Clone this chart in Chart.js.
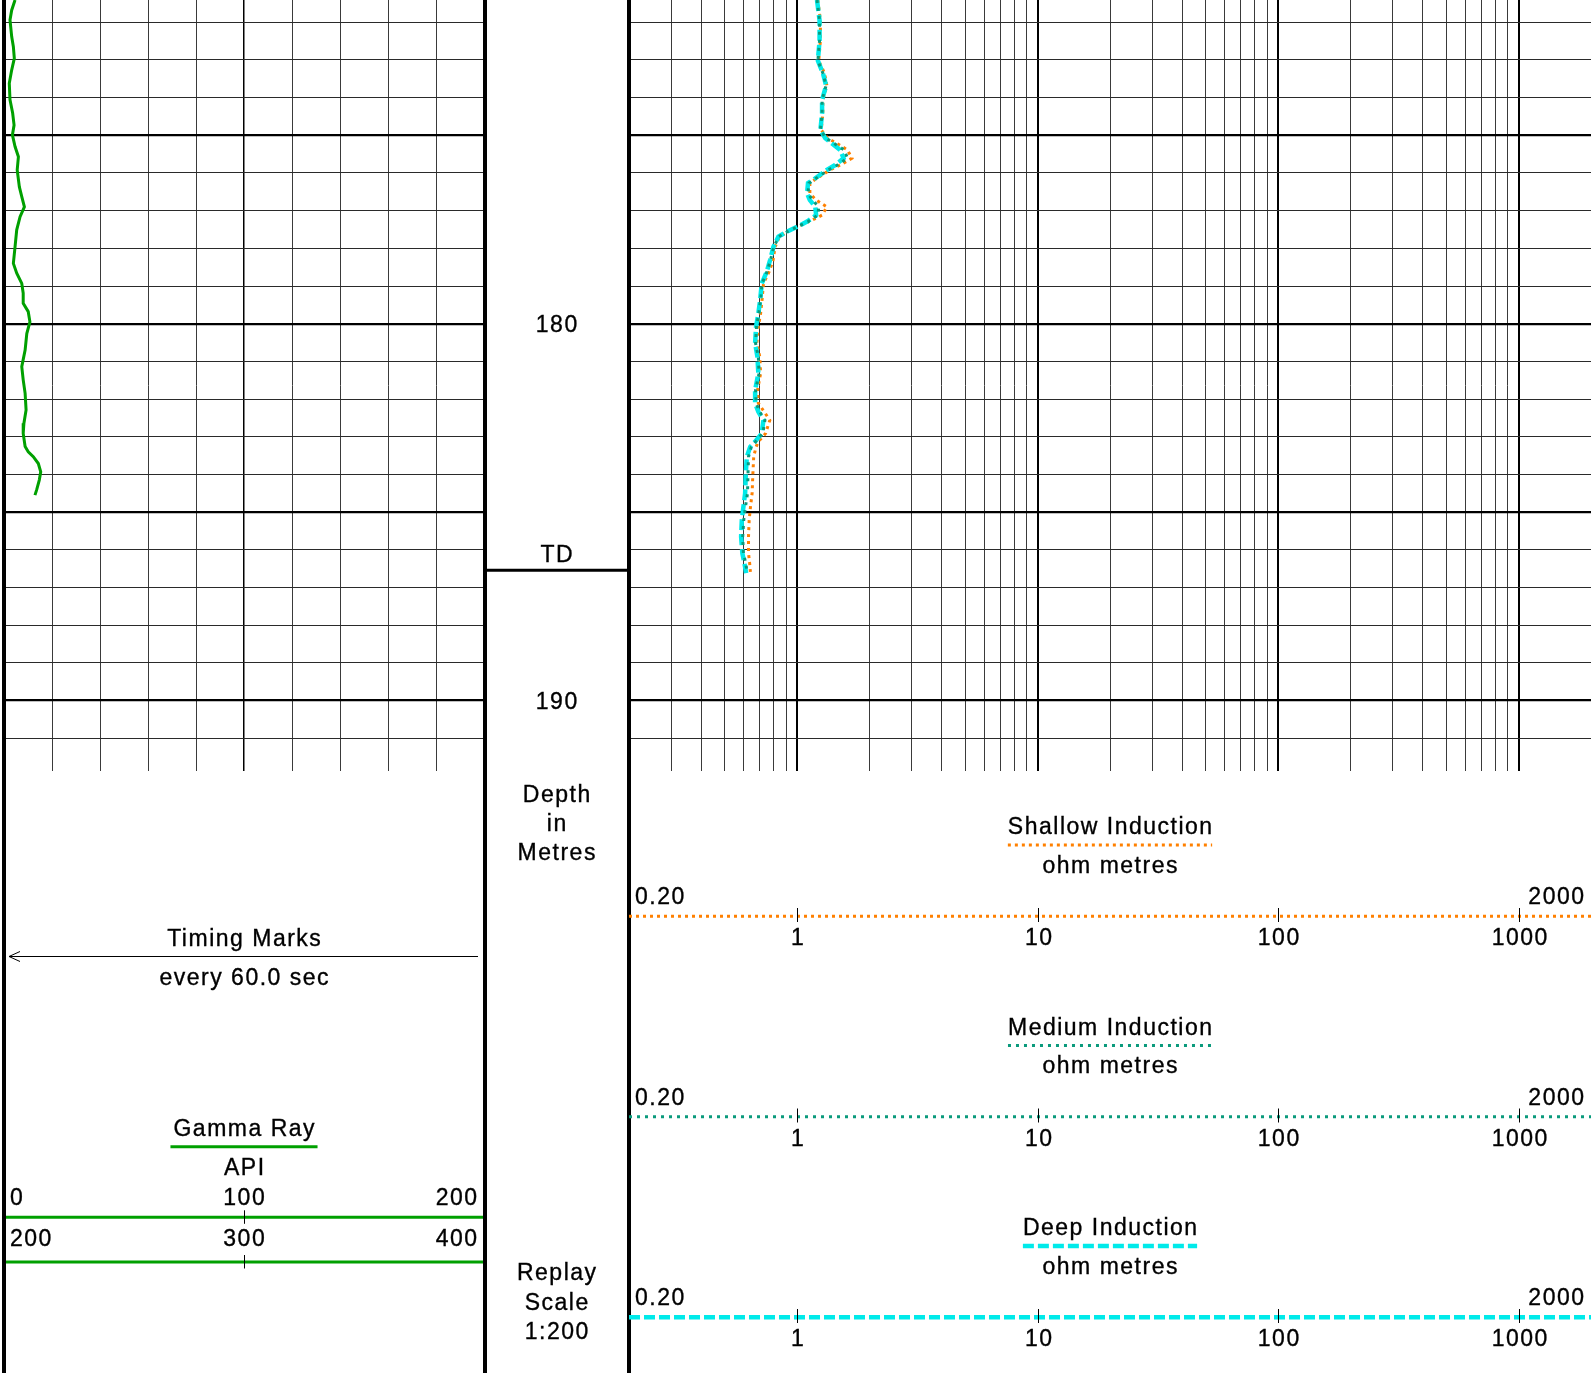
<!DOCTYPE html>
<html>
<head>
<meta charset="utf-8">
<script src="https://cdn.jsdelivr.net/npm/chart.js@4.4.1/dist/chart.umd.min.js"></script>
<style>
  html, body { margin: 0; padding: 0; background: #fff; overflow: hidden; }
  #wrap { position: relative; width: 1591px; height: 1373px; }
  canvas { position: absolute; top: 0; }
  #grCanvas { left: 0; }
  #resCanvas { left: 629px; }
</style>
</head>
<body>
<div id="wrap">
  <canvas id="grCanvas" width="629" height="1373"></canvas>
  <canvas id="resCanvas" width="962" height="1373"></canvas>
</div>
<script>
// depth window shown on the log (metres)
const depthTop = 171.41;
const depthBottom = 191.87;
const depthLabels = [180, 190];
const tdDepth = 186.54;

// Gamma Ray (API)
const grDepth = [171.41, 171.68, 171.94, 172.38, 172.65, 172.96, 173.27, 173.62, 174.06, 174.41,
  174.73, 174.99, 175.30, 175.57, 175.92, 176.37, 176.63, 176.90, 177.16, 177.51,
  177.96, 178.40, 178.66, 178.93, 179.19, 179.46, 179.68, 179.95, 180.26, 180.70,
  181.14, 181.49, 181.85, 182.29, 182.64, 182.91, 183.26, 183.40, 183.53, 183.71,
  183.93, 184.15, 184.41, 184.55];
const grApi = [4.6, 3.2, 2.5, 3.2, 3.9, 4.3, 3.2, 2.2, 2.5, 3.6,
  4.2, 3.5, 4.6, 6.0, 5.5, 6.4, 7.4, 8.5, 6.7, 5.3,
  4.6, 3.9, 5.3, 7.4, 8.0, 8.0, 10.1, 10.8, 9.5, 8.8,
  7.4, 8.0, 8.8, 9.2, 8.3, 8.0, 8.8, 10.1, 12.2, 14.3,
  15.3, 14.7, 13.6, 12.9];
const grScaleRows = [[0, 100, 200], [200, 300, 400]];

// Induction resistivity (ohm metres)
const resDepth = [171.41, 171.95, 172.48, 173.02, 173.35, 173.68, 174.06, 174.42, 174.86, 175.08,
  175.21, 175.39, 175.61, 175.79, 175.92, 176.14, 176.27, 176.54, 176.72, 176.90,
  177.12, 177.29, 177.43, 177.56, 177.69, 177.96, 178.31, 178.62, 178.93, 179.37,
  179.73, 180.08, 180.52, 180.88, 181.32, 181.76, 182.11, 182.34, 182.56, 182.91,
  183.13, 183.27, 183.53, 183.97, 184.50, 184.86, 185.21, 185.65, 186.09, 186.36, 186.62];
const deepRes = [1.21, 1.24, 1.24, 1.22, 1.28, 1.32, 1.27, 1.27, 1.25, 1.31,
  1.39, 1.51, 1.56, 1.44, 1.33, 1.19, 1.11, 1.10, 1.13, 1.19,
  1.20, 1.10, 1.00, 0.906, 0.836, 0.797, 0.772, 0.748, 0.713, 0.702,
  0.690, 0.675, 0.669, 0.684, 0.690, 0.669, 0.669, 0.690, 0.724, 0.713,
  0.669, 0.638, 0.618, 0.612, 0.608, 0.598, 0.589, 0.585, 0.592, 0.604, 0.614];
const mediumRes = [1.21, 1.24, 1.24, 1.22, 1.28, 1.32, 1.27, 1.27, 1.25, 1.32,
  1.42, 1.57, 1.62, 1.47, 1.35, 1.20, 1.12, 1.11, 1.16, 1.23,
  1.22, 1.11, 1.00, 0.91, 0.84, 0.80, 0.775, 0.75, 0.715, 0.705,
  0.693, 0.678, 0.672, 0.69, 0.695, 0.672, 0.675, 0.70, 0.735, 0.72,
  0.672, 0.645, 0.628, 0.625, 0.622, 0.61, 0.60, 0.594, 0.598, 0.612, 0.62];
const shallowRes = [1.22, 1.25, 1.25, 1.23, 1.30, 1.33, 1.28, 1.28, 1.26, 1.34,
  1.46, 1.62, 1.69, 1.51, 1.37, 1.21, 1.13, 1.13, 1.20, 1.33,
  1.27, 1.12, 1.00, 0.91, 0.845, 0.81, 0.795, 0.765, 0.725, 0.715,
  0.705, 0.69, 0.68, 0.70, 0.705, 0.685, 0.69, 0.73, 0.77, 0.74,
  0.69, 0.675, 0.66, 0.655, 0.65, 0.64, 0.632, 0.628, 0.628, 0.635, 0.64];
const resScaleEnds = ['0.20', '2000'];
const resScaleTicks = [1, 10, 100, 1000];

// grid positions
const depthGrid = [];
for (let d = Math.ceil(depthTop); d <= Math.floor(depthBottom); d++) depthGrid.push(d);
const grGrid = [];
for (let v = 0; v <= 200; v += 20) grGrid.push(v);
const resGrid = [];
[0.1, 1, 10, 100, 1000].forEach(dec => {
  for (let s = 1; s <= 9; s++) {
    const v = +(s * dec).toPrecision(3);
    if (v >= 0.2 && v <= 2000) resGrid.push(v);
  }
});

const GREEN = '#00a000';
const grStyle = { color: GREEN, width: 3, dash: [] };
const shallowStyle = { color: '#ff8000', width: 3, dash: [3, 4] };
const mediumStyle = { color: '#0a9a7c', width: 3, dash: [3, 5] };
const deepStyle = { color: '#00eaea', width: 4.5, dash: [11, 4] };

const FONT = '23px "Liberation Sans", Arial, sans-serif';
const LS = 1.5;

function text(ctx, s, x, y, align) {
  ctx.save();
  ctx.font = FONT;
  ctx.letterSpacing = LS + 'px';
  ctx.fillStyle = '#000';
  ctx.strokeStyle = '#000';
  ctx.lineWidth = 0.35;
  ctx.textBaseline = 'alphabetic';
  ctx.textAlign = 'left';
  const w = ctx.measureText(s).width - LS;
  let x0 = x;
  if (align === 'center' || !align) x0 = x - w / 2;
  else if (align === 'right') x0 = x - w;
  ctx.fillText(s, x0, y);
  ctx.strokeText(s, x0, y);
  ctx.restore();
  return w;
}
function textWidth(ctx, s) {
  ctx.save();
  ctx.font = FONT;
  ctx.letterSpacing = LS + 'px';
  const w = ctx.measureText(s).width - LS;
  ctx.restore();
  return w;
}
function line(ctx, x1, y1, x2, y2, color, width, dash) {
  ctx.save();
  ctx.strokeStyle = color;
  ctx.lineWidth = width;
  ctx.setLineDash(dash || []);
  ctx.lineCap = 'butt';
  ctx.beginPath();
  ctx.moveTo(x1, y1);
  ctx.lineTo(x2, y2);
  ctx.stroke();
  ctx.restore();
}

function depthAxis() {
  return {
    type: 'linear',
    reverse: true,
    min: depthTop,
    max: depthBottom,
    afterBuildTicks: s => { s.ticks = depthGrid.map(v => ({ value: v })); },
    ticks: { display: false },
    border: { display: false },
    grid: {
      drawTicks: false,
      color: c => (c.tick && c.tick.value % 5 === 0) ? '#000' : '#2a2a2a',
      lineWidth: c => (c.tick && c.tick.value % 5 === 0) ? 2.2 : 1
    }
  };
}

// ---------- Gamma ray track + depth track ----------
const grHeader = {
  id: 'grHeader',
  afterDraw(chart) {
    const ctx = chart.ctx;
    const xs = chart.scales.x, ys = chart.scales.y;
    const H = chart.height;
    // track borders
    ctx.fillStyle = '#000';
    ctx.fillRect(2, 0, 4, H);
    ctx.fillRect(483, 0, 4, H);
    ctx.fillRect(627, 0, 2, H);

    // depth track
    const dc = 556.5;
    depthLabels.forEach(d => text(ctx, String(d), dc, ys.getPixelForValue(d) + 8));
    const tdY = ys.getPixelForValue(tdDepth);
    line(ctx, 487, tdY, 627, tdY, '#000', 3);
    text(ctx, 'TD', dc, tdY - 8);
    ['Depth', 'in', 'Metres'].forEach((s, i) => text(ctx, s, dc, 801.7 + i * 29.3));
    ['Replay', 'Scale', '1:200'].forEach((s, i) => text(ctx, s, dc, 1280 + i * 29.6));

    // timing marks
    const cx = xs.getPixelForValue(100);
    text(ctx, 'Timing Marks', cx, 946);
    line(ctx, 9, 956.5, 478, 956.5, '#000', 1);
    line(ctx, 9, 956.5, 20, 951.5, '#000', 1);
    line(ctx, 9, 956.5, 20, 961.5, '#000', 1);
    text(ctx, 'every 60.0 sec', cx, 985);

    // gamma ray legend
    text(ctx, 'Gamma Ray', cx, 1135.5);
    const gw = textWidth(ctx, 'Gamma Ray');
    line(ctx, cx - gw / 2 - 3, 1146.7, cx + gw / 2 + 3, 1146.7, GREEN, 3);
    text(ctx, 'API', cx, 1175);
    grScaleRows.forEach((row, i) => {
      const base = 1205 + i * 41.3;
      const ly = 1217.3 + i * 44.7;
      text(ctx, String(row[0]), 10, base, 'left');
      text(ctx, String(row[1]), cx, base, 'center');
      text(ctx, String(row[2]), 477, base, 'right');
      line(ctx, 6, ly, 483, ly, GREEN, 3);
      line(ctx, Math.round(cx) + 0.5, ly - 7, Math.round(cx) + 0.5, ly + 6.5, '#000', 1);
    });
  }
};

new Chart(document.getElementById('grCanvas'), {
  type: 'scatter',
  data: {
    datasets: [{
      label: 'Gamma Ray',
      data: grDepth.map((d, i) => ({ x: grApi[i], y: d })),
      showLine: true,
      borderColor: grStyle.color,
      borderWidth: grStyle.width,
      pointRadius: 0,
      tension: 0
    }]
  },
  options: {
    responsive: false,
    animation: false,
    devicePixelRatio: 1,
    layout: { padding: { left: 4, right: 145, top: 0, bottom: 602 } },
    plugins: { legend: { display: false }, tooltip: { enabled: false } },
    scales: {
      x: {
        type: 'linear',
        min: 0,
        max: 200,
        afterBuildTicks: s => { s.ticks = grGrid.map(v => ({ value: v })); },
        ticks: { display: false },
        border: { display: false },
        grid: {
          drawTicks: false,
          color: c => (c.tick && c.tick.value === 100) ? '#000' : '#3a3a3a',
          lineWidth: c => (c.tick && c.tick.value === 100) ? 1.5 : 1
        }
      },
      y: depthAxis()
    }
  },
  plugins: [grHeader]
});

// ---------- Resistivity track ----------
const resCurves = [
  { name: 'Shallow Induction', style: shallowStyle },
  { name: 'Medium Induction', style: mediumStyle },
  { name: 'Deep Induction', style: deepStyle }
];

const resHeader = {
  id: 'resHeader',
  afterDraw(chart) {
    const ctx = chart.ctx;
    const xs = chart.scales.x;
    const W = chart.width, H = chart.height;
    ctx.fillStyle = '#000';
    ctx.fillRect(0, 0, 2, H);
    const cx = W / 2;
    resCurves.forEach((c, i) => {
      const tb = 834.3 + i * 200.5;
      const st = c.style;
      text(ctx, c.name, cx, tb);
      const w = textWidth(ctx, c.name);
      line(ctx, cx - w / 2, tb + 10.7, cx + w / 2, tb + 10.7, st.color, st.width, st.dash);
      text(ctx, 'ohm metres', cx, tb + 38.5);
      text(ctx, resScaleEnds[0], 6, tb + 69.7, 'left');
      text(ctx, resScaleEnds[1], 955, tb + 69.7, 'right');
      const ly = tb + 82;
      line(ctx, 0, ly, W, ly, st.color, st.width, st.dash);
      resScaleTicks.forEach(v => {
        const px = Math.round(xs.getPixelForValue(v)) + 0.5;
        line(ctx, px, ly - 8.3, px, ly + 5.7, '#000', 1);
        text(ctx, String(v), px, tb + 110.7);
      });
    });
  }
};

function resDataset(label, values, st, order) {
  return {
    label,
    data: resDepth.map((d, i) => ({ x: values[i], y: d })),
    showLine: true,
    borderColor: st.color,
    borderWidth: st.width,
    borderDash: st.dash,
    borderCapStyle: 'butt',
    pointRadius: 0,
    tension: 0,
    order
  };
}

new Chart(document.getElementById('resCanvas'), {
  type: 'scatter',
  data: {
    datasets: [
      resDataset('Shallow Induction', shallowRes, shallowStyle, 3),
      resDataset('Deep Induction', deepRes, deepStyle, 2),
      resDataset('Medium Induction', mediumRes, mediumStyle, 1)
    ]
  },
  options: {
    responsive: false,
    animation: false,
    devicePixelRatio: 1,
    layout: { padding: { left: 0, right: 0, top: 0, bottom: 602 } },
    plugins: { legend: { display: false }, tooltip: { enabled: false } },
    scales: {
      x: {
        type: 'logarithmic',
        min: 0.2,
        max: 2000,
        afterBuildTicks: s => { s.ticks = resGrid.map(v => ({ value: v })); },
        ticks: { display: false },
        border: { display: false },
        grid: {
          drawTicks: false,
          color: c => {
            const v = c.tick ? c.tick.value : 0;
            const lg = Math.log10(v);
            return Math.abs(lg - Math.round(lg)) < 1e-6 ? '#000' : '#3a3a3a';
          },
          lineWidth: c => {
            const v = c.tick ? c.tick.value : 0;
            const lg = Math.log10(v);
            return Math.abs(lg - Math.round(lg)) < 1e-6 ? 2 : 1;
          }
        }
      },
      y: depthAxis()
    }
  },
  plugins: [resHeader]
});
</script>
</body>
</html>
